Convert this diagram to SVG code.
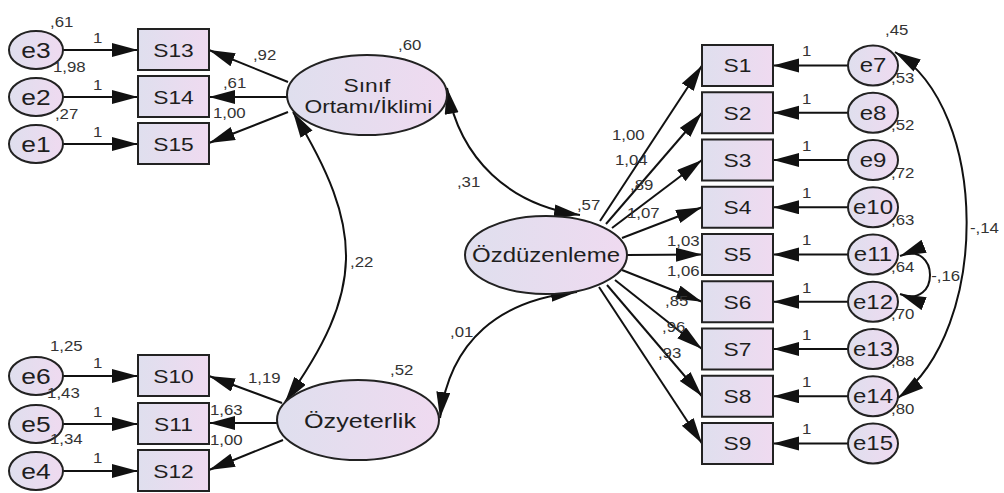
<svg xmlns="http://www.w3.org/2000/svg" width="1004" height="493" viewBox="0 0 1004 493">
<defs>
<linearGradient id="fill" x1="0" y1="0" x2="1" y2="0">
<stop offset="0" stop-color="#dfdfee"/>
<stop offset="1" stop-color="#efdaf0"/>
</linearGradient>
<marker id="ah" markerUnits="userSpaceOnUse" markerWidth="28" markerHeight="16" refX="26" refY="7" orient="auto-start-reverse">
<path d="M0,0 L26,7 L0,14 z" fill="#111"/>
</marker>
<style>
.box{fill:url(#fill);stroke:#222;stroke-width:2}
.ell{fill:url(#fill);stroke:#222;stroke-width:2}
.ln{fill:none;stroke:#111;stroke-width:2;marker-end:url(#ah)}
.cv{fill:none;stroke:#111;stroke-width:2;marker-start:url(#ah);marker-end:url(#ah)}
text{font-family:"Liberation Sans",Arial,sans-serif;fill:#1e1e1e}
.sl{font-size:19px;text-anchor:middle}
.el{font-size:22px;text-anchor:middle}
.er{font-size:20px;text-anchor:middle}
.lat{font-size:19px;text-anchor:middle}
.n{font-size:14px;fill:#333}
</style>
</defs>

<g id="connectors">
<line class="ln" x1="63" y1="50" x2="138" y2="50"/>
<line class="ln" x1="63" y1="97" x2="138" y2="97"/>
<line class="ln" x1="63" y1="144" x2="138" y2="144"/>
<line class="ln" x1="63" y1="376" x2="138" y2="376"/>
<line class="ln" x1="63" y1="424" x2="138" y2="424"/>
<line class="ln" x1="63" y1="471" x2="138" y2="471"/>
<line class="ln" x1="288" y1="82" x2="209" y2="50"/>
<line class="ln" x1="287" y1="97" x2="209" y2="97"/>
<line class="ln" x1="288" y1="112" x2="209" y2="143"/>
<line class="ln" x1="282" y1="403" x2="209" y2="376"/>
<line class="ln" x1="277" y1="423" x2="209" y2="423"/>
<line class="ln" x1="283" y1="440" x2="209" y2="470"/>
<line class="ln" x1="600" y1="221" x2="702" y2="65.5"/>
<line class="ln" x1="606" y1="224" x2="702" y2="112.75"/>
<line class="ln" x1="612" y1="228" x2="702" y2="160"/>
<line class="ln" x1="622" y1="238" x2="702" y2="207.25"/>
<line class="ln" x1="627" y1="255" x2="702" y2="254.5"/>
<line class="ln" x1="622" y1="270" x2="702" y2="301.75"/>
<line class="ln" x1="615" y1="280" x2="702" y2="349"/>
<line class="ln" x1="607" y1="285" x2="702" y2="396.25"/>
<line class="ln" x1="599" y1="287" x2="702" y2="443.5"/>
<line class="ln" x1="848" y1="65.5" x2="773" y2="65.5"/>
<line class="ln" x1="848" y1="112.75" x2="773" y2="112.75"/>
<line class="ln" x1="848" y1="160" x2="773" y2="160"/>
<line class="ln" x1="848" y1="207.25" x2="773" y2="207.25"/>
<line class="ln" x1="848" y1="254.5" x2="773" y2="254.5"/>
<line class="ln" x1="848" y1="301.75" x2="773" y2="301.75"/>
<line class="ln" x1="848" y1="349" x2="773" y2="349"/>
<line class="ln" x1="848" y1="396.25" x2="773" y2="396.25"/>
<line class="ln" x1="848" y1="443.5" x2="773" y2="443.5"/>
<path class="cv" d="M293,112 C365,230 365,290 285,402"/>
<path class="cv" d="M447,88 C460,160 510,205 580,215"/>
<path class="cv" d="M440,418 C450,340 500,300 577,292"/>
<path class="cv" d="M895,52 C990,110 990,330 898,398"/>
<path class="cv" d="M900,256 C940,240 940,310 900,294"/>
</g>

<g id="e3"><ellipse class="ell" cx="36" cy="50" rx="27" ry="19"/><text class="el" transform="scale(1.2 1)" x="30" y="58">e3</text></g>
<g id="e2"><ellipse class="ell" cx="36" cy="97" rx="27" ry="19"/><text class="el" transform="scale(1.2 1)" x="30" y="105">e2</text></g>
<g id="e1"><ellipse class="ell" cx="36" cy="144" rx="27" ry="19"/><text class="el" transform="scale(1.2 1)" x="30" y="152">e1</text></g>
<g id="e6"><ellipse class="ell" cx="36" cy="376" rx="27" ry="19"/><text class="el" transform="scale(1.2 1)" x="30" y="384">e6</text></g>
<g id="e5"><ellipse class="ell" cx="36" cy="424" rx="27" ry="19"/><text class="el" transform="scale(1.2 1)" x="30" y="432">e5</text></g>
<g id="e4"><ellipse class="ell" cx="36" cy="471" rx="27" ry="19"/><text class="el" transform="scale(1.2 1)" x="30" y="479">e4</text></g>

<g id="S13"><rect class="box" x="138" y="29" width="71" height="41"/><text class="sl" transform="scale(1.2 1)" x="144.6" y="57">S13</text></g>
<g id="S14"><rect class="box" x="138" y="76" width="71" height="41"/><text class="sl" transform="scale(1.2 1)" x="144.6" y="104">S14</text></g>
<g id="S15"><rect class="box" x="138" y="123" width="71" height="41"/><text class="sl" transform="scale(1.2 1)" x="144.6" y="151">S15</text></g>
<g id="S10"><rect class="box" x="138" y="355" width="71" height="41"/><text class="sl" transform="scale(1.2 1)" x="144.6" y="383">S10</text></g>
<g id="S11"><rect class="box" x="138" y="403" width="71" height="41"/><text class="sl" transform="scale(1.2 1)" x="144.6" y="431">S11</text></g>
<g id="S12"><rect class="box" x="138" y="450" width="71" height="41"/><text class="sl" transform="scale(1.2 1)" x="144.6" y="478">S12</text></g>

<g id="SinifOrtami"><ellipse class="ell" cx="367" cy="95" rx="80" ry="40"/><text class="lat" transform="scale(1.2 1)" x="305.8" y="92">Sınıf</text><text class="lat" transform="scale(1.2 1)" x="307" y="113">Ortamı/İklimi</text></g>
<g id="Ozyeterlik"><ellipse class="ell" cx="358" cy="420" rx="81" ry="40"/><text class="lat" style="font-size:21px" transform="scale(1.2 1)" x="300" y="428">Özyeterlik</text></g>
<g id="Ozduzenleme"><ellipse class="ell" cx="546" cy="255" rx="81" ry="39"/><text class="lat" style="font-size:20px" transform="scale(1.2 1)" x="455" y="262">Özdüzenleme</text></g>

<g id="S1"><rect class="box" x="702" y="45" width="71" height="41"/><text class="sl" transform="scale(1.2 1)" x="614.6" y="72.5">S1</text></g>
<g id="S2"><rect class="box" x="702" y="92.25" width="71" height="41"/><text class="sl" transform="scale(1.2 1)" x="614.6" y="119.75">S2</text></g>
<g id="S3"><rect class="box" x="702" y="139.5" width="71" height="41"/><text class="sl" transform="scale(1.2 1)" x="614.6" y="167">S3</text></g>
<g id="S4"><rect class="box" x="702" y="186.75" width="71" height="41"/><text class="sl" transform="scale(1.2 1)" x="614.6" y="214.25">S4</text></g>
<g id="S5"><rect class="box" x="702" y="234" width="71" height="41"/><text class="sl" transform="scale(1.2 1)" x="614.6" y="261.5">S5</text></g>
<g id="S6"><rect class="box" x="702" y="281.25" width="71" height="41"/><text class="sl" transform="scale(1.2 1)" x="614.6" y="308.75">S6</text></g>
<g id="S7"><rect class="box" x="702" y="328.5" width="71" height="41"/><text class="sl" transform="scale(1.2 1)" x="614.6" y="356">S7</text></g>
<g id="S8"><rect class="box" x="702" y="375.75" width="71" height="41"/><text class="sl" transform="scale(1.2 1)" x="614.6" y="403.25">S8</text></g>
<g id="S9"><rect class="box" x="702" y="423" width="71" height="41"/><text class="sl" transform="scale(1.2 1)" x="614.6" y="450.5">S9</text></g>

<g id="e7"><ellipse class="ell" cx="873" cy="65.5" rx="25" ry="20"/><text class="er" transform="scale(1.2 1)" x="727.5" y="72.5">e7</text></g>
<g id="e8"><ellipse class="ell" cx="873" cy="112.75" rx="25" ry="20"/><text class="er" transform="scale(1.2 1)" x="727.5" y="119.75">e8</text></g>
<g id="e9"><ellipse class="ell" cx="873" cy="160" rx="25" ry="20"/><text class="er" transform="scale(1.2 1)" x="727.5" y="167">e9</text></g>
<g id="e10"><ellipse class="ell" cx="873" cy="207.25" rx="25" ry="20"/><text class="er" transform="scale(1.2 1)" x="727.5" y="214.25">e10</text></g>
<g id="e11"><ellipse class="ell" cx="873" cy="254.5" rx="25" ry="20"/><text class="er" transform="scale(1.2 1)" x="727.5" y="261.5">e11</text></g>
<g id="e12"><ellipse class="ell" cx="873" cy="301.75" rx="25" ry="20"/><text class="er" transform="scale(1.2 1)" x="727.5" y="308.75">e12</text></g>
<g id="e13"><ellipse class="ell" cx="873" cy="349" rx="25" ry="20"/><text class="er" transform="scale(1.2 1)" x="727.5" y="356">e13</text></g>
<g id="e14"><ellipse class="ell" cx="873" cy="396.25" rx="25" ry="20"/><text class="er" transform="scale(1.2 1)" x="727.5" y="403.25">e14</text></g>
<g id="e15"><ellipse class="ell" cx="873" cy="443.5" rx="25" ry="20"/><text class="er" transform="scale(1.2 1)" x="727.5" y="450.5">e15</text></g>

<g id="labels" transform="scale(1.2 1)">
<text class="n" x="41.7" y="27">,61</text>
<text class="n" x="77.5" y="43">1</text>
<text class="n" x="44.2" y="72">1,98</text>
<text class="n" x="77.5" y="90">1</text>
<text class="n" x="45.8" y="119">,27</text>
<text class="n" x="77.5" y="137">1</text>
<text class="n" x="210.8" y="60">,92</text>
<text class="n" x="331.7" y="50">,60</text>
<text class="n" x="185.8" y="88">,61</text>
<text class="n" x="177.5" y="118">1,00</text>
<text class="n" x="41.7" y="351">1,25</text>
<text class="n" x="77.5" y="368">1</text>
<text class="n" x="39.2" y="398">1,43</text>
<text class="n" x="77.5" y="417">1</text>
<text class="n" x="41.7" y="444">1,34</text>
<text class="n" x="77.5" y="463">1</text>
<text class="n" x="206.7" y="383">1,19</text>
<text class="n" x="175" y="415">1,63</text>
<text class="n" x="175" y="445">1,00</text>
<text class="n" x="325" y="375">,52</text>
<text class="n" x="380.8" y="187">,31</text>
<text class="n" x="480.8" y="210">,57</text>
<text class="n" x="375" y="337">,01</text>
<text class="n" x="291.7" y="267">,22</text>
<text class="n" x="510" y="140">1,00</text>
<text class="n" x="512.5" y="165">1,04</text>
<text class="n" x="525" y="190">,89</text>
<text class="n" x="522.5" y="218">1,07</text>
<text class="n" x="555.8" y="246">1,03</text>
<text class="n" x="555.8" y="276">1,06</text>
<text class="n" x="554.2" y="306">,85</text>
<text class="n" x="551.7" y="332">,96</text>
<text class="n" x="548.3" y="358">,93</text>
<text class="n" x="668.3" y="56.5">1</text>
<text class="n" x="668.3" y="103.75">1</text>
<text class="n" x="668.3" y="151">1</text>
<text class="n" x="668.3" y="198.25">1</text>
<text class="n" x="668.3" y="245.5">1</text>
<text class="n" x="668.3" y="292.75">1</text>
<text class="n" x="668.3" y="340">1</text>
<text class="n" x="668.3" y="387.25">1</text>
<text class="n" x="668.3" y="434.5">1</text>
<text class="n" x="737.5" y="35">,45</text>
<text class="n" x="742.5" y="83">,53</text>
<text class="n" x="742.5" y="130">,52</text>
<text class="n" x="742.5" y="178">,72</text>
<text class="n" x="742.5" y="225">,63</text>
<text class="n" x="742.5" y="272">,64</text>
<text class="n" x="742.5" y="319">,70</text>
<text class="n" x="742.5" y="366">,88</text>
<text class="n" x="742.5" y="414">,80</text>
<text class="n" x="808.3" y="233">-,14</text>
<text class="n" x="776" y="281">-,16</text>
</g>
</svg>
